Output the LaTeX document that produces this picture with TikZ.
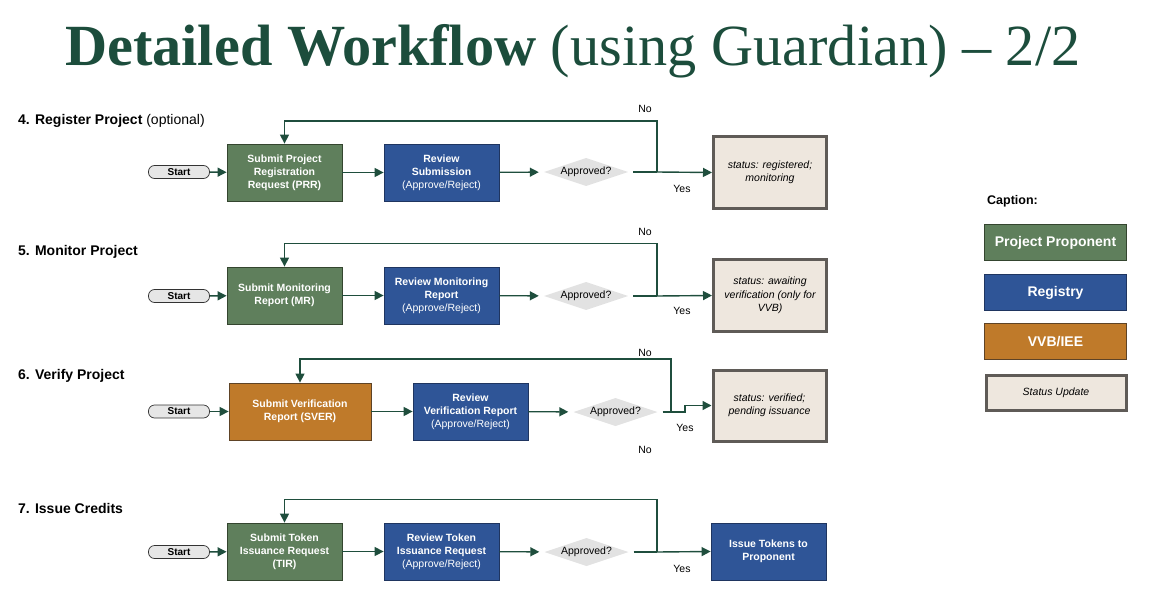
\documentclass[tikz,border=0pt]{standalone}
\usepackage{fontspec}
\setmainfont{Liberation Sans}
\newfontfamily\titlefont{Liberation Serif}
\usetikzlibrary{arrows.meta}
\definecolor{ppgreen}{HTML}{5F7F5C}
\definecolor{ppborder}{HTML}{34452F}
\definecolor{regblue}{HTML}{2F5597}
\definecolor{regborder}{HTML}{1F3560}
\definecolor{vvborange}{HTML}{BF7A2A}
\definecolor{vvbborder}{HTML}{5E4326}
\definecolor{statfill}{HTML}{EEE7DE}
\definecolor{statborder}{HTML}{5F5B57}
\definecolor{startfill}{HTML}{E6E6E6}
\definecolor{decfill}{HTML}{E2E2E2}
\definecolor{flowc}{HTML}{1F4E3D}
\definecolor{titlec}{HTML}{1C4D3C}
\newcommand\fsz[2]{\fontsize{#1}{#2}\selectfont}
\tikzset{
  box/.style={rectangle, minimum width=115pt, minimum height=57pt, inner sep=2pt,
    align=center, text=white, font=\fsz{10.5}{13}\bfseries, line width=0.8pt},
  ppbox/.style={box, fill=ppgreen, draw=ppborder},
  regbox/.style={box, fill=regblue, draw=regborder},
  vvbbox/.style={box, fill=vvborange, draw=vvbborder},
  statbox/.style={rectangle, fill=statfill, draw=statborder, line width=3pt, align=center,
    font=\fsz{10.5}{13.5}\itshape, minimum width=113pt, minimum height=72pt, inner sep=2pt},
  startpill/.style={rectangle, rounded corners=6pt, fill=startfill, draw=black!80, line width=0.7pt,
    minimum width=61pt, minimum height=13pt, inner sep=0pt, font=\fsz{10}{12}\bfseries},
  decbox/.style={rectangle, minimum width=94pt, minimum height=28pt, inner sep=0pt, font=\fsz{10.5}{12},
    path picture={\fill[decfill] ([xshift=5pt]path picture bounding box.west) -- (path picture bounding box.north)
      -- ([xshift=-5pt]path picture bounding box.east) -- (path picture bounding box.south) -- cycle;}},
  flow/.style={draw=flowc, line width=1.4pt, -{Triangle[length=9pt,width=9pt,fill=flowc]}},
  plain/.style={draw=flowc, line width=1.4pt},
  lbl/.style={font=\fsz{10.5}{12}, inner sep=0pt},
  sect/.style={anchor=base west, font=\fsz{14}{16}\bfseries, inner sep=0pt},
  legbox/.style={rectangle, minimum width=142pt, minimum height=36pt, inner sep=0pt, text=white,
    font=\fsz{14}{16}\bfseries, line width=0.8pt}
}
\begin{document}
\begin{tikzpicture}[x=1pt,y=-1pt]
\useasboundingbox (0,0) rectangle (1150,607);
\node[anchor=base west, inner sep=0pt, text=titlec, font=\titlefont\fsz{58.3}{60}] (title) at (65,66)
  {\textbf{Detailed Workflow} (using Guardian) – 2/2};

% Row 4
\node[sect] (l4) at (18,124.5) {4. Register Project {\mdseries (optional)}};
\node[startpill] (s4) at (179,172) {Start};
\node[ppbox] (p4) at (284.5,172.5) {Submit Project\\Registration\\Request (PRR)};
\node[regbox] (r4) at (441.5,172.5) {Review\\Submission\\{\mdseries (Approve/Reject)}};
\node[decbox] (d4) at (586,172) {Approved?};
\coordinate (j4) at (657,172);
\coordinate (t4) at (657,121);
\node[statbox] (st4) at (770,172.5) {status: registered;\\monitoring};
\draw[flow] (s4) -- (p4);
\draw[flow] (p4) -- (r4);
\draw[flow] (r4) -- (d4);
\draw[plain] (d4.east) -- (j4);
\draw[flow] (j4) -- (st4.west);
\draw[flow] (j4) -- (t4) -| (p4.north);
\node[lbl] (no4) at (645,109) {No};
\node[lbl] (yes4) at (682,189) {Yes};

% Row 5
\node[sect] (l5) at (18,255) {5. Monitor Project};
\node[startpill] (s5) at (179,296) {Start};
\node[ppbox] (p5) at (284.5,295.5) {Submit Monitoring\\Report (MR)};
\node[regbox] (r5) at (441.5,295.5) {Review Monitoring\\Report\\{\mdseries (Approve/Reject)}};
\node[decbox] (d5) at (586,296) {Approved?};
\coordinate (j5) at (657,296);
\coordinate (t5) at (657,243.5);
\node[statbox] (st5) at (770,295.5) {status: awaiting\\verification (only for\\VVB)};
\draw[flow] (s5) -- (p5);
\draw[flow] (p5) -- (r5);
\draw[flow] (r5) -- (d5);
\draw[plain] (d5.east) -- (j5);
\draw[flow] (j5) -- (st5.west);
\draw[flow] (j5) -- (t5) -| (p5.north);
\node[lbl] (no5) at (645,232) {No};
\node[lbl] (yes5) at (682,311) {Yes};

% Row 6
\node[sect] (l6) at (18,379) {6. Verify Project};
\node[startpill] (s6) at (179,411.5) {Start};
\node[vvbbox, minimum width=142pt] (p6) at (300,411.5) {Submit Verification\\Report (SVER)};
\node[regbox] (r6) at (470.5,411.5) {Review\\Verification Report\\{\mdseries (Approve/Reject)}};
\node[decbox] (d6) at (615.5,412) {Approved?};
\coordinate (j6) at (671,412);
\coordinate (t6) at (671,359);
\coordinate (k6) at (685,412);
\node[statbox, minimum height=71pt] (st6) at (769.5,405.5) {status: verified;\\pending issuance};
\draw[flow] (s6) -- (p6);
\draw[flow] (p6) -- (r6);
\draw[flow] (r6) -- (d6);
\draw[plain] (d6.east) -- (j6);
\draw[flow] (j6) -- (k6) |- (st6.west);
\draw[flow] (j6) -- (t6) -| (p6.north);
\node[lbl] (no6) at (645,353) {No};
\node[lbl] (yes6) at (685,428) {Yes};
\node[lbl] (no6b) at (645,450) {No};

% Row 7
\node[sect] (l7) at (18,513) {7. Issue Credits};
\node[startpill] (s7) at (179,552) {Start};
\node[ppbox] (p7) at (284.5,551.5) {Submit Token\\Issuance Request\\(TIR)};
\node[regbox] (r7) at (441.5,551.5) {Review Token\\Issuance Request\\{\mdseries (Approve/Reject)}};
\node[decbox] (d7) at (586.5,552) {Approved?};
\coordinate (j7) at (657,552);
\coordinate (t7) at (657,499.5);
\node[regbox] (st7) at (768.5,551.5) {Issue Tokens to\\Proponent};
\draw[flow] (s7) -- (p7);
\draw[flow] (p7) -- (r7);
\draw[flow] (r7) -- (d7);
\draw[plain] (d7.east) -- (j7);
\draw[flow] (j7) -- (st7.west);
\draw[flow] (j7) -- (t7) -| (p7.north);
\node[lbl] (yes7) at (682,569) {Yes};

% Caption
\node[anchor=west, inner sep=0pt, font=\fsz{12.5}{14}\bfseries] (cap) at (987,201) {Caption:};
\node[legbox, fill=ppgreen, draw=ppborder] (lg1) at (1055.5,242.5) {Project Proponent};
\node[legbox, fill=regblue, draw=regborder] (lg2) at (1055.5,292.5) {Registry};
\node[legbox, fill=vvborange, draw=vvbborder] (lg3) at (1055.5,341.5) {VVB/IEE};
\node[legbox, fill=statfill, draw=statborder, line width=3pt, minimum width=140pt, minimum height=35pt,
  text=black, font=\fsz{10.5}{12}\itshape] (lg4) at (1056,392.5) {Status Update};
\end{tikzpicture}
\end{document}
